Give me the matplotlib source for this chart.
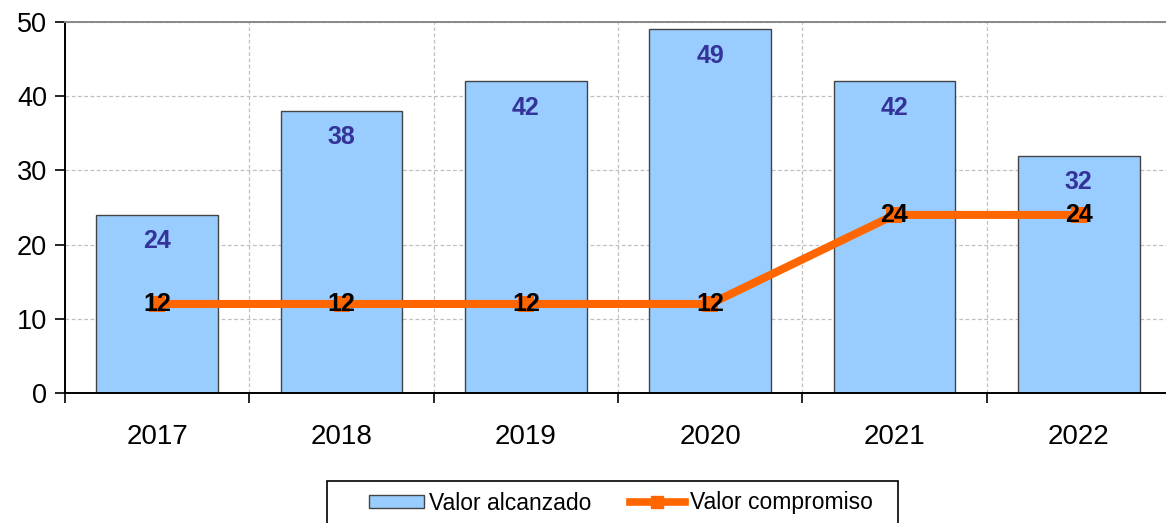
import numpy as np
import matplotlib.pyplot as plt
from matplotlib.patches import Patch, Rectangle
from matplotlib.lines import Line2D

# Data
years = ['2017', '2018', '2019', '2020', '2021', '2022']
alcanzado = [24, 38, 42, 49, 42, 32]
compromiso = [12, 12, 12, 12, 24, 24]

plt.rcParams['font.family'] = ['Liberation Sans', 'DejaVu Sans']

W, H = 1166, 523
fig = plt.figure(figsize=(W / 100, H / 100), dpi=100)
ax = fig.add_axes([65 / W, 1 - 393 / H, (1171 - 65) / W, 371 / H])

x = np.arange(len(years))

# Bars
ax.bar(x, alcanzado, width=0.66, color='#99ccff', edgecolor='#444444',
       linewidth=1.0, zorder=2)
for xi, v in zip(x, alcanzado):
    ax.annotate(str(v), (xi, v), xytext=(0, -19), textcoords='offset points',
                ha='center', va='center', fontsize=18, fontweight='bold',
                color='#333399', zorder=5)

# Line
ax.plot(x, compromiso, color='#ff6600', linewidth=5.8, marker='s',
        markersize=12, markeredgewidth=0, zorder=3, solid_capstyle='butt')
for xi, v in zip(x, compromiso):
    ax.text(xi, v, str(v), ha='center', va='center', fontsize=18,
            fontweight='bold', color='black', zorder=6)

# Axes styling
ax.set_xlim(-0.5, len(years) - 0.5)
ax.set_ylim(0, 50)
ax.set_yticks(range(0, 51, 10))
ax.set_xticks(x)
ax.set_xticklabels(years)
ax.set_xticks(np.arange(-0.5, len(years), 1), minor=True)
ax.tick_params(axis='y', direction='out', length=7, width=1.2, labelsize=19.5,
               pad=6, colors='black')
ax.tick_params(axis='x', which='major', length=0, labelsize=20, pad=22)
ax.tick_params(axis='x', which='minor', direction='out', length=7, width=1.2)

ax.grid(True, axis='y', which='major', linestyle=(0, (3, 2)), color='#c0c0c0',
        linewidth=0.9, zorder=0)
ax.grid(True, axis='x', which='minor', linestyle=(0, (3, 2)), color='#c0c0c0',
        linewidth=0.9, zorder=0)
ax.set_axisbelow(True)

ax.spines['left'].set_linewidth(1.4)
ax.spines['bottom'].set_linewidth(1.4)
ax.spines['top'].set_color('#888888')
ax.spines['top'].set_linewidth(1.4)
ax.spines['right'].set_visible(False)

# Legend (frame drawn separately so the inner padding can be wide)
handles = [
    Patch(facecolor='#99ccff', edgecolor='#444444', label='Valor alcanzado'),
    Line2D([0], [0], color='#ff6600', linewidth=5.5, marker='s', markersize=8,
           label='Valor compromiso'),
]
leg = fig.legend(handles=handles, loc='center left',
                 bbox_to_anchor=(369 / W, 1 - 503 / H), ncol=2,
                 frameon=False, fontsize=16.5, handlelength=2.4,
                 handleheight=0.5, handletextpad=0.2, columnspacing=1.7,
                 borderpad=0, borderaxespad=0)
fig.patches.append(Rectangle((327 / W, -0.05), (898 - 327) / W,
                             0.05 + 1 - 481 / H, transform=fig.transFigure,
                             facecolor='none', edgecolor='black',
                             linewidth=1.2))

fig.savefig('out.png', dpi=100)
